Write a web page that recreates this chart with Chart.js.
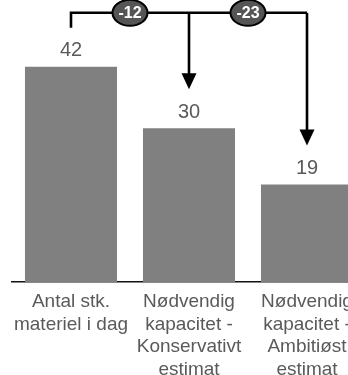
<!DOCTYPE html>
<html>
<head>
<meta charset="utf-8">
<script src="https://cdn.jsdelivr.net/npm/chart.js@4/dist/chart.umd.min.js"></script>
<style>
  html, body { margin: 0; padding: 0; background: #fff; overflow: hidden; }
  #wrap { width: 380px; height: 375px; }
</style>
</head>
<body>
<div id="wrap"><canvas id="chart"></canvas></div>
<script>
// data
const categories = [
  ['Antal stk.', 'materiel i dag'],
  ['Nødvendig', 'kapacitet -', 'Konservativt', 'estimat'],
  ['Nødvendig', 'kapacitet -', 'Ambitiøst', 'estimat']
];
const values = [42, 30, 19];
const yMax = 55;

const BAR_COLOR = '#808080';
const TEXT_COLOR = '#5a5a5a';
const FONT = '"Liberation Sans", Arial, Helvetica, sans-serif';

// tal over søjlerne
const valueLabels = {
  id: 'valueLabels',
  afterDatasetsDraw(chart) {
    const ctx = chart.ctx;
    const meta = chart.getDatasetMeta(0);
    ctx.save();
    ctx.font = '20px ' + FONT;
    ctx.fillStyle = TEXT_COLOR;
    ctx.textAlign = 'center';
    ctx.textBaseline = 'middle';
    meta.data.forEach((bar, i) => {
      ctx.fillText(String(values[i]), bar.x, bar.y - 16);
    });
    ctx.restore();
  }
};

// klammer, pile og forskelle
const diffBracket = {
  id: 'diffBracket',
  afterDatasetsDraw(chart) {
    const ctx = chart.ctx;
    const x = chart.scales.x, y = chart.scales.y;
    const gap = 7.6;                // afstand over søjle (i dataenheder)
    const topY = y.getPixelForValue(52.5);
    const xs = values.map((v, i) => x.getPixelForValue(i));
    const ends = values.map(v => y.getPixelForValue(v + gap));

    ctx.save();
    ctx.strokeStyle = '#000';
    ctx.fillStyle = '#000';
    ctx.lineWidth = 2.6;
    ctx.lineCap = 'butt';

    // vandret linje + venstre ben
    ctx.beginPath();
    ctx.moveTo(xs[0], ends[0]);
    ctx.lineTo(xs[0], topY);
    ctx.lineTo(xs[xs.length - 1], topY);
    ctx.stroke();

    // pile ned
    for (let i = 1; i < xs.length; i++) {
      const ah = 16, aw = 7.5;
      ctx.beginPath();
      ctx.moveTo(xs[i], topY);
      ctx.lineTo(xs[i], ends[i] - ah + 1);
      ctx.stroke();
      ctx.beginPath();
      ctx.moveTo(xs[i] - aw, ends[i] - ah);
      ctx.lineTo(xs[i] + aw, ends[i] - ah);
      ctx.lineTo(xs[i], ends[i]);
      ctx.closePath();
      ctx.fill();
    }

    // ovaler med forskel
    for (let i = 1; i < xs.length; i++) {
      const cx = (xs[i - 1] + xs[i]) / 2;
      ctx.beginPath();
      ctx.ellipse(cx, topY, 17.5, 13, 0, 0, Math.PI * 2);
      ctx.fillStyle = '#555555';
      ctx.fill();
      ctx.lineWidth = 2;
      ctx.strokeStyle = '#000';
      ctx.stroke();
      ctx.fillStyle = '#fff';
      ctx.font = 'bold 16px ' + FONT;
      ctx.textAlign = 'center';
      ctx.textBaseline = 'middle';
      ctx.fillText(String(values[i] - values[0]), cx, topY + 1);
    }
    ctx.restore();
  }
};

new Chart(document.getElementById('chart'), {
  type: 'bar',
  data: {
    labels: categories,
    datasets: [{
      data: values,
      backgroundColor: BAR_COLOR,
      borderWidth: 0,
      barPercentage: 0.78,
      categoryPercentage: 1
    }]
  },
  options: {
    responsive: true,
    maintainAspectRatio: false,
    animation: false,
    layout: { padding: { left: 12, right: 14, top: 0, bottom: 0 } },
    plugins: { legend: { display: false }, tooltip: { enabled: false } },
    scales: {
      x: {
        grid: { display: false, drawTicks: false },
        border: { display: true, color: '#111', width: 1.6 },
        ticks: {
          color: TEXT_COLOR,
          font: { family: FONT, size: 19, lineHeight: '22.5px' },
          padding: 9,
          maxRotation: 0,
          autoSkip: false
        },
        afterFit(scale) { scale.height = 93; }
      },
      y: {
        display: false,
        min: 0,
        max: yMax
      }
    }
  },
  plugins: [valueLabels, diffBracket]
});
</script>
</body>
</html>
